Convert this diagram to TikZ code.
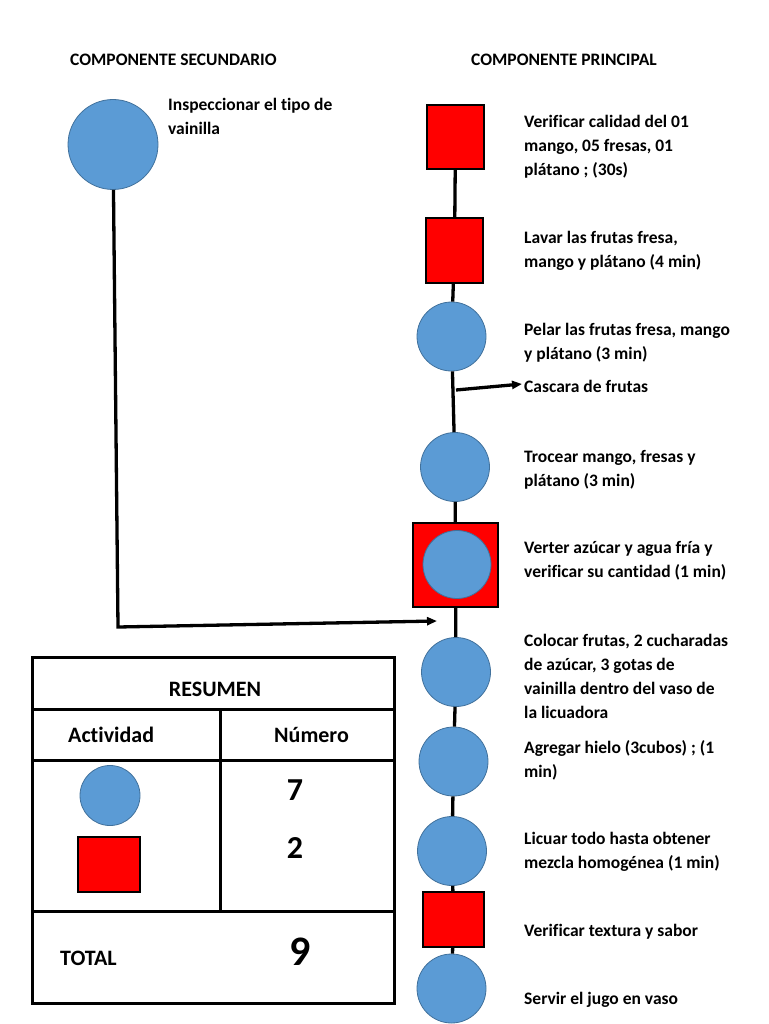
\documentclass[tikz,border=0pt]{standalone}
\usepackage{fontspec}
\setmainfont{Carlito}[Ligatures=NoCommon]
\usetikzlibrary{arrows.meta}
\definecolor{cblue}{HTML}{5B9BD5}
\definecolor{cbord}{HTML}{41719C}
\definecolor{cred}{HTML}{FF0000}
\begin{document}
\begin{tikzpicture}[x=1pt,y=-1pt,
  opcirc/.style={circle, fill=cblue, draw=cbord, line width=0.8pt, minimum size=69pt, inner sep=0},
  insp/.style={rectangle, fill=cred, draw=black, line width=1.8pt, inner sep=0},
  link/.style={line width=3.3pt, draw=black},
  arr/.style={link, -{Triangle[length=10pt,width=8pt]}},
  lbl/.style={anchor=base west, inner sep=0, align=left, font=\bfseries\fontsize{17.5}{24}\selectfont},
  tline/.style={line width=3pt, draw=black},
  tbig/.style={inner sep=0, font=\bfseries\fontsize{22}{26}\selectfont}]
\useasboundingbox (0,0) rectangle (768,1024);
% headings
\node[lbl] (h1) at (70,66) {COMPONENTE SECUNDARIO};
\node[lbl] (h2) at (471,66) {COMPONENTE PRINCIPAL};
% secondary
\node[opcirc, minimum size=90pt] (s1) at (113,144.5) {};
\node[lbl] (ts1) at (168,135) {Inspeccionar el tipo de\\vainilla};
% main column shapes
\node[insp, minimum width=57pt, minimum height=64pt] (p1) at (455.5,137) {};
\node[insp, minimum width=57pt, minimum height=65pt] (p2) at (454.5,250.5) {};
\node[opcirc] (p3) at (451.5,336.5) {};
\node[opcirc] (p4) at (455,467) {};
\node[insp, minimum width=85pt, minimum height=84pt] (p5) at (455.5,565) {};
\node[opcirc, minimum size=68pt] (p5c) at (457,564.5) {};
\node[opcirc] (p6) at (456,672) {};
\node[opcirc] (p7) at (453.5,761.5) {};
\node[opcirc] (p8) at (452,851) {};
\node[insp, minimum width=61pt, minimum height=55pt] (p9) at (453.5,919.5) {};
\node[opcirc] (p10) at (451.5,988.5) {};
% labels (base anchor = baseline of last line)
\node[lbl] (t1) at (524,176) {Verificar calidad del 01\\mango, 05 fresas, 01\\plátano ; (30s)};
\node[lbl] (t2) at (524,267) {Lavar las frutas fresa,\\mango y plátano (4 min)};
\node[lbl] (t3) at (524,359) {Pelar las frutas fresa, mango\\y plátano (3 min)};
\node[lbl] (tc) at (524,392) {Cascara de frutas};
\node[lbl] (t4) at (524,486) {Trocear mango, fresas y\\plátano (3 min)};
\node[lbl] (t5) at (524,577) {Verter azúcar y agua fría y\\verificar su cantidad (1 min)};
\node[lbl] (t6) at (524,718) {Colocar frutas, 2 cucharadas\\de azúcar, 3 gotas de\\vainilla dentro del vaso de\\la licuadora};
\node[lbl] (t7) at (524,777) {Agregar hielo (3cubos) ; (1\\min)};
\node[lbl] (t8) at (524,868) {Licuar todo hasta obtener\\mezcla homogénea (1 min)};
\node[lbl] (t9) at (524,936) {Verificar textura y sabor};
\node[lbl] (t10) at (524,1004) {Servir el jugo en vaso};
% connectors
\draw[link] (p1) -- (p2);
\draw[link] (p2) -- (p3);
\draw[link] (p3) -- (p4);
\draw[link] (p4) -- (p5);
\draw[link] (p5) -- (p6);
\draw[link] (p6) -- (p7);
\draw[link] (p7) -- (p8);
\draw[link] (p8) -- (p9);
\draw[link] (p9) -- (p10);
\coordinate (br) at (456,390);
\coordinate (brend) at (522,384);
\draw[arr] (br) -- (brend);
\coordinate (sc) at (118,627);
\coordinate (tip) at (437,621);
\draw[arr] (s1) -- (sc) -- (tip);
% summary table
\draw[tline] (32,657) rectangle (394,1003);
\draw[tline] (32,709) -- (394,709);
\draw[tline] (32,760) -- (394,760);
\draw[tline] (32,911) -- (394,911);
\draw[tline] (220,709) -- (220,911);
\node[tbig, anchor=base] (res) at (215,696) {RESUMEN};
\node[tbig, anchor=base west] (act) at (68,742) {Actividad};
\node[tbig, anchor=base west] (num) at (274,742) {Número};
\node[opcirc, minimum size=60pt] (kc) at (110,795.5) {};
\node[insp, minimum width=62pt, minimum height=55pt] (ks) at (109,864.5) {};
\node[inner sep=0, anchor=base, font=\bfseries\fontsize{32}{36}\selectfont] (n7) at (295,800) {7};
\node[inner sep=0, anchor=base, font=\bfseries\fontsize{32}{36}\selectfont] (n2) at (295,858) {2};
\node[tbig, anchor=base west] (tot) at (60,965) {TOTAL};
\node[inner sep=0, anchor=base, font=\bfseries\fontsize{42}{46}\selectfont] (n9) at (300,965) {9};
\end{tikzpicture}
\end{document}
